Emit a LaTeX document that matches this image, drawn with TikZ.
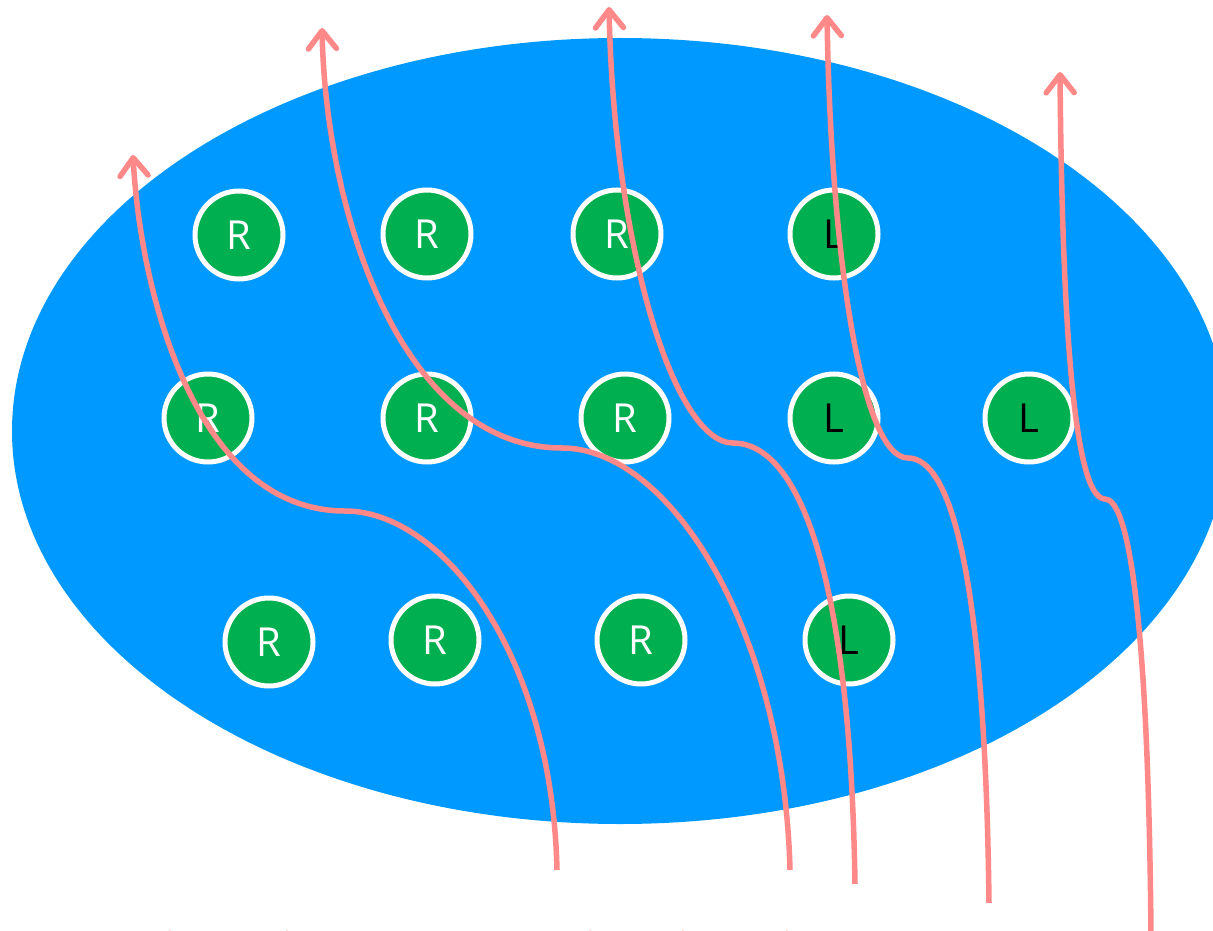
\documentclass[tikz,border=0pt]{standalone}
\usepackage{fontspec}
\setmainfont{Open Sans}
\usetikzlibrary{arrows.meta}
\definecolor{skyb}{HTML}{0099FF}
\definecolor{leafg}{HTML}{00AF4F}
\definecolor{pinkarr}{HTML}{FF8888}
\tikzset{
  ball/.style={circle, draw=white, line width=5pt, fill=leafg, minimum size=88pt, inner sep=0pt, font=\fontsize{40}{46}\selectfont},
  rball/.style={ball, text=white},
  lball/.style={ball, text=black},
  flow/.style={draw=pinkarr, line width=5.5pt, -{Straight Barb[length=18pt,width=28pt,round]}},
  stub/.style={fill=pinkarr}
}
\begin{document}
\begin{tikzpicture}[x=1pt,y=-1pt]
\useasboundingbox (0,0) rectangle (1213,931);
\clip (0,0) rectangle (1213,931);
\fill[skyb] (620,431) ellipse [x radius=608, y radius=393];
% row 1
\node[rball] (r11) at (239,235) {R};
\node[rball] (r12) at (427,234) {R};
\node[rball] (r13) at (617,234) {R};
\node[lball] (l14) at (834,234) {L};
% row 2
\node[rball] (r21) at (208,418) {R};
\node[rball] (r22) at (427,418) {R};
\node[rball] (r23) at (625,418) {R};
\node[lball] (l24) at (834,418) {L};
\node[lball] (l25) at (1029,418) {L};
% row 3
\node[rball] (r31) at (269,642) {R};
\node[rball] (r32) at (435,640) {R};
\node[rball] (r33) at (641,640) {R};
\node[lball] (l34) at (849,640) {L};
% arrow ends
\coordinate (s1) at (557,870); \coordinate (m1) at (345,511); \coordinate (e1) at (133,155);
\coordinate (s2) at (790,870); \coordinate (m2) at (562,448); \coordinate (e2) at (322,28);
\coordinate (s3) at (855,884); \coordinate (m3) at (733,443); \coordinate (e3) at (609,7);
\coordinate (s4) at (989,903); \coordinate (m4) at (908,458); \coordinate (e4) at (827,15);
\coordinate (s5) at (1151,933); \coordinate (m5) at (1105,499); \coordinate (e5) at (1060,72);
\path[flow] (s1) .. controls (552,650) and (440,511) .. (m1) .. controls (195,511) and (140,290) .. (e1);
\path[flow] (s2) .. controls (784,630) and (670,448) .. (m2) .. controls (405,448) and (326,220) .. (e2);
\path[flow] (s3) .. controls (850,560) and (795,443) .. (m3) .. controls (675,443) and (614,250) .. (e3);
\path[flow] (s4) .. controls (985,570) and (950,458) .. (m4) .. controls (862,458) and (831,260) .. (e4);
\path[flow] (s5) .. controls (1148,610) and (1128,499) .. (m5) .. controls (1072,499) and (1062,300) .. (e5);
% stubs at the lower edge
\foreach \n/\x in {b1/170,b2/287,b3/590,b4/683,b5/787}{
  \coordinate (\n) at (\x,934);
  \fill[stub] (\n) circle (3.5pt);
}
\end{tikzpicture}
\end{document}
